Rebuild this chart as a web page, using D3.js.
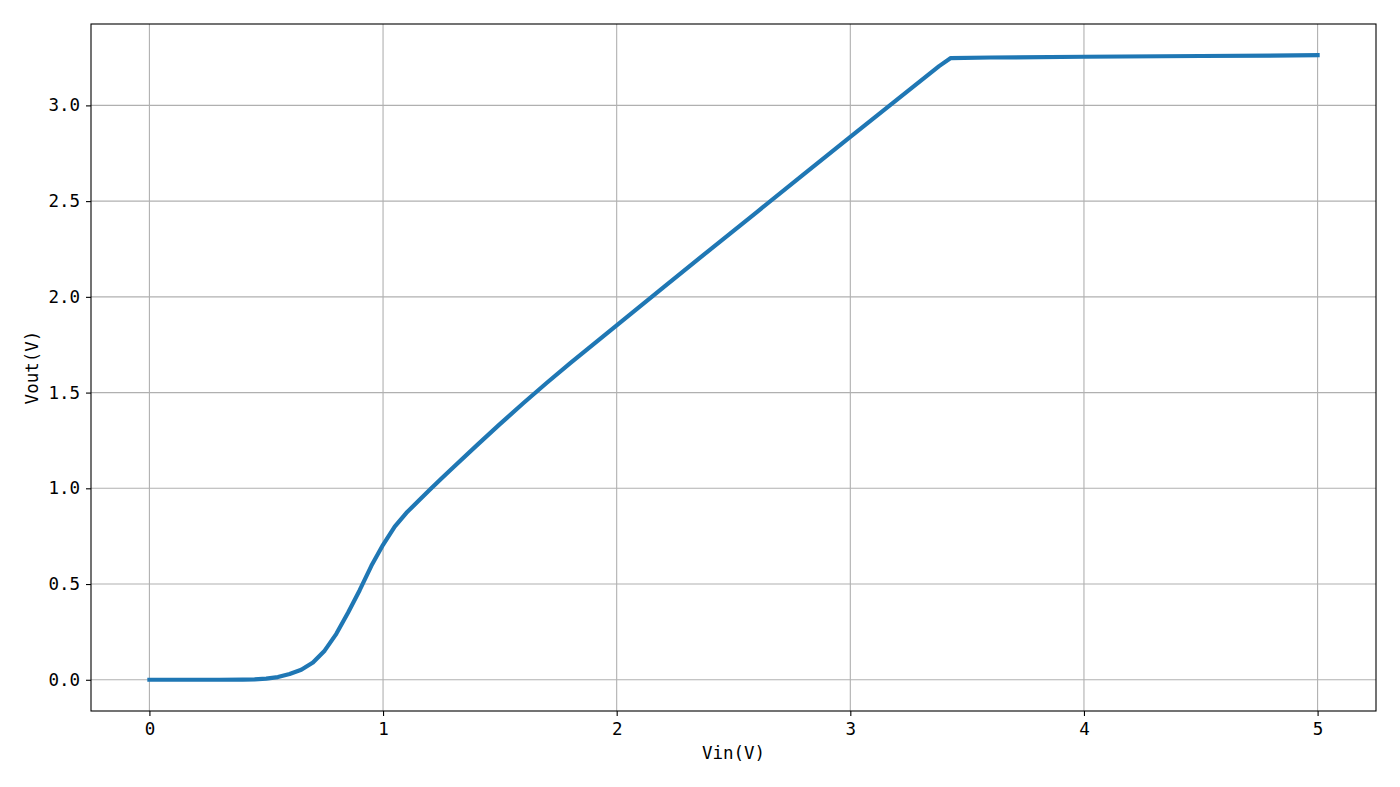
<!DOCTYPE html>
<html>
<head>
<meta charset="utf-8">
<script src="https://cdn.jsdelivr.net/npm/d3@7"></script>
<style>
  body { margin: 0; background: #fff; }
  text { font-family: "DejaVu Sans Mono", "Liberation Mono", monospace; fill: #000; }
</style>
</head>
<body>
<div id="chart"></div>
<script>
// input voltage (V) and output voltage (V)
const vin = [0, 0.1, 0.2, 0.3, 0.4, 0.45, 0.5, 0.55, 0.6, 0.65, 0.7, 0.75, 0.8, 0.85,
  0.9, 0.95, 1.0, 1.05, 1.1, 1.15, 1.2, 1.25, 1.3, 1.4, 1.5, 1.6, 1.7, 1.8, 1.9, 2.0,
  2.2, 2.4, 2.6, 2.8, 3.0, 3.2, 3.38, 3.43, 3.6, 4.0, 4.5, 5.0];
const vout = [0, 0, 0, 0, 0.001, 0.002, 0.006, 0.014, 0.03, 0.052, 0.09, 0.152, 0.24, 0.35,
  0.468, 0.595, 0.705, 0.8, 0.872, 0.932, 0.992, 1.051, 1.109, 1.223, 1.335, 1.444, 1.55, 1.652, 1.752, 1.851,
  2.05, 2.247, 2.443, 2.64, 2.836, 3.03, 3.205, 3.247, 3.25, 3.254, 3.258, 3.262];
const xTicks = [0, 1, 2, 3, 4, 5];
const yTicks = [0, 0.5, 1.0, 1.5, 2.0, 2.5, 3.0];
const xLabel = "Vin(V)";
const yLabel = "Vout(V)";

const width = 1400, height = 787;
const margin = {left: 91, right: 24, top: 24, bottom: 76};
const pw = width - margin.left - margin.right;
const ph = height - margin.top - margin.bottom;

const data = vin.map((v, i) => ({x: v, y: vout[i]}));

// matplotlib style 5% padding on both axes
let pad = (lo, hi) => { let m = (hi - lo) * 0.05; return [lo - m, hi + m]; };
const x = d3.scaleLinear().domain(pad(d3.min(vin), d3.max(vin))).range([0, pw]);
const y = d3.scaleLinear().domain(pad(d3.min(vout), d3.max(vout))).range([ph, 0]);

const svg = d3.select("#chart").append("svg")
  .attr("width", width)
  .attr("height", height);

const g = svg.append("g").attr("transform", `translate(${margin.left},${margin.top})`);

// grid
g.append("g").selectAll("line").data(xTicks).join("line")
  .attr("x1", d => x(d)).attr("x2", d => x(d))
  .attr("y1", 0).attr("y2", ph)
  .attr("stroke", "#b0b0b0").attr("stroke-width", 1.1);
g.append("g").selectAll("line").data(yTicks).join("line")
  .attr("x1", 0).attr("x2", pw)
  .attr("y1", d => y(d)).attr("y2", d => y(d))
  .attr("stroke", "#b0b0b0").attr("stroke-width", 1.1);

// curve
g.append("path")
  .datum(data)
  .attr("fill", "none")
  .attr("stroke", "#1f77b4")
  .attr("stroke-width", 4.2)
  .attr("stroke-linejoin", "round")
  .attr("stroke-linecap", "square")
  .attr("d", d3.line().x(d => x(d.x)).y(d => y(d.y)));

// axes
const xAxis = g.append("g").attr("transform", `translate(0,${ph})`)
  .call(d3.axisBottom(x).tickValues(xTicks).tickFormat(d3.format("d"))
    .tickSize(5).tickSizeOuter(0).tickPadding(6));
const yAxis = g.append("g")
  .call(d3.axisLeft(y).tickValues(yTicks).tickFormat(d3.format(".1f"))
    .tickSize(5).tickSizeOuter(0).tickPadding(6));

[xAxis, yAxis].forEach(a => {
  a.select(".domain").remove();
  a.selectAll(".tick line").attr("stroke", "#000").attr("stroke-width", 1.1);
  a.selectAll(".tick text").attr("font-size", 17.5).attr("font-family", null);
});
xAxis.selectAll(".tick text").attr("dy", "0.75em");

// frame
g.append("rect")
  .attr("x", 0).attr("y", 0).attr("width", pw).attr("height", ph)
  .attr("fill", "none").attr("stroke", "#000").attr("stroke-width", 1.1);

// axis labels
svg.append("text")
  .attr("x", margin.left + pw / 2)
  .attr("y", 759)
  .attr("text-anchor", "middle")
  .attr("font-size", 17.5)
  .text(xLabel);

svg.append("text")
  .attr("transform", `translate(38,${margin.top + ph / 2}) rotate(-90)`)
  .attr("text-anchor", "middle")
  .attr("font-size", 17.5)
  .text(yLabel);
</script>
</body>
</html>
